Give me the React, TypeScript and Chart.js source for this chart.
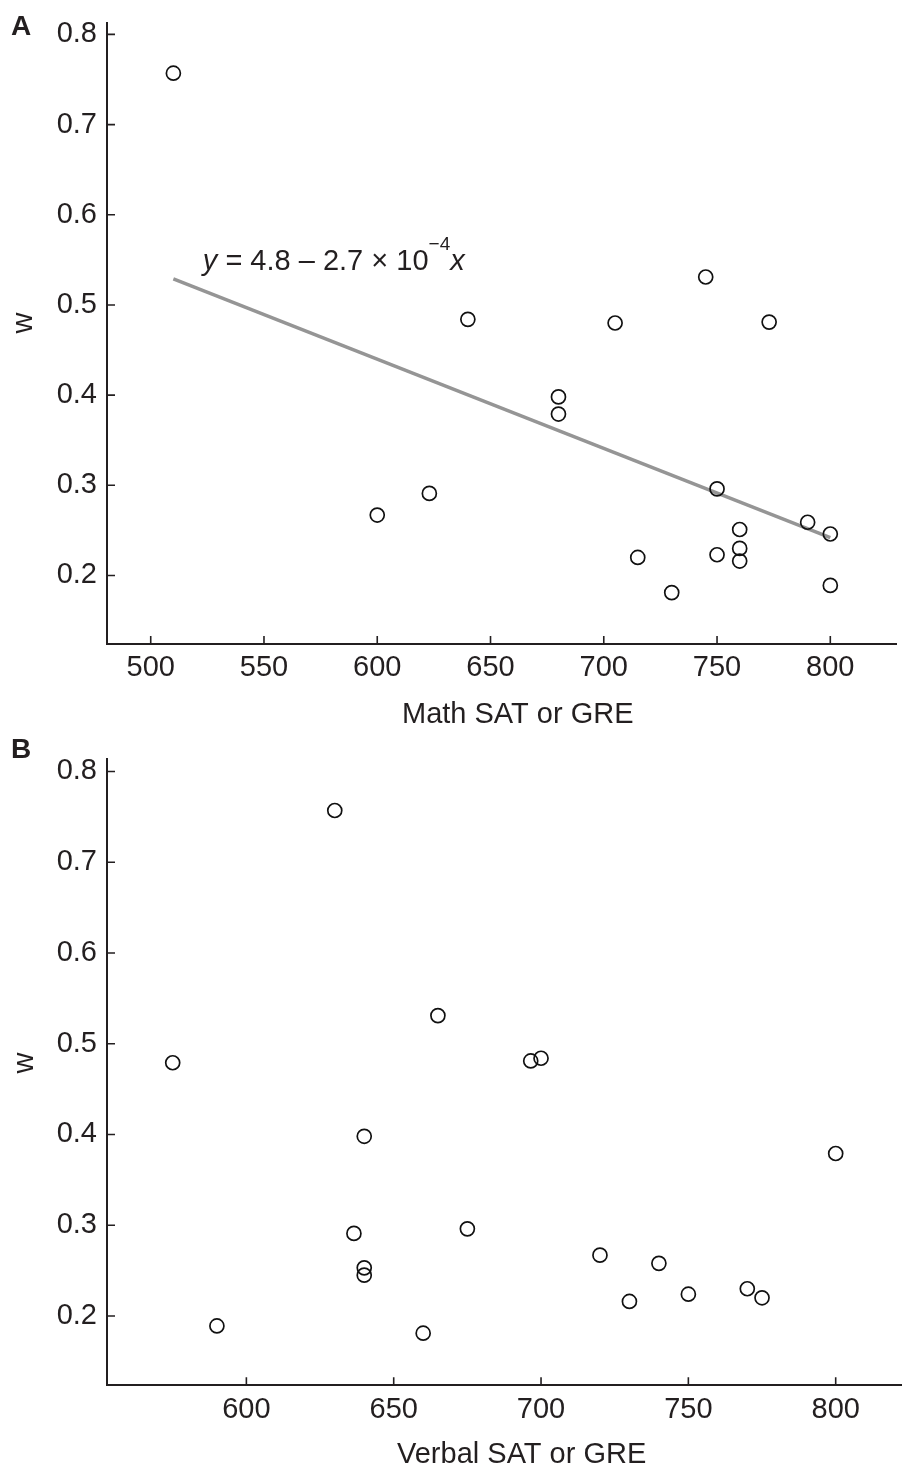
import { useEffect, useRef } from 'react';
import { Chart, registerables } from 'chart.js';

Chart.register(...registerables);

const INK = '#231f20';
const FONT = '"Liberation Sans", Arial, Helvetica, sans-serif';

// Panel A: math score against w (one entry per student, same order as w)
const MATH_SCORES = [510, 600, 623, 640, 680, 680, 705, 715, 730, 745, 750, 750, 760, 760, 760, 773, 790, 800, 800];
const MATH_W = [0.757, 0.267, 0.291, 0.484, 0.398, 0.379, 0.48, 0.22, 0.181, 0.531, 0.296, 0.223, 0.251, 0.23, 0.216, 0.481, 0.259, 0.246, 0.189];
// fitted line end points
const FIT_SCORES = [510, 800];
const FIT_W = [0.529, 0.242];
const MATH_TICKS = [500, 550, 600, 650, 700, 750, 800];

// Panel B: verbal score against w
const VERBAL_SCORES = [630, 575, 665, 640, 636.5, 640, 640, 590, 660, 696.5, 700, 800, 675, 720, 740, 730, 750, 770, 775];
const VERBAL_W = [0.757, 0.479, 0.531, 0.398, 0.291, 0.253, 0.245, 0.189, 0.181, 0.481, 0.484, 0.379, 0.296, 0.267, 0.258, 0.216, 0.224, 0.23, 0.22];
const VERBAL_TICKS = [600, 650, 700, 750, 800];

const W_TICKS = [0.2, 0.3, 0.4, 0.5, 0.6, 0.7, 0.8];

type Box = { left: number; top: number; right: number; bottom: number };

type PanelProps = {
  letter: string;
  letterY: number;
  xs: number[];
  ws: number[];
  fitX?: number[];
  fitW?: number[];
  xTicks: number[];
  xRange: [number, number];
  wRange: [number, number];
  xTitle: string;
  titleX: number;
  titleY: number;
  wLabel: [number, number];
  equation?: { x: number; w: number };
  top: number;
  height: number;
  area: Box;
};

function Panel(p: PanelProps) {
  const canvasRef = useRef<HTMLCanvasElement>(null);
  const chartRef = useRef<Chart | null>(null);

  useEffect(() => {
    chartRef.current?.destroy();
    if (!canvasRef.current) return undefined;

    // inward tick marks, axis titles, panel letter, fit equation
    const decorate = {
      id: 'decorate',
      afterDraw(chart: Chart) {
        const { ctx } = chart;
        const xs = chart.scales.x;
        const ys = chart.scales.y;
        ctx.save();
        ctx.strokeStyle = INK;
        ctx.lineWidth = 1.6;
        ctx.beginPath();
        xs.ticks.forEach(t => {
          const px = xs.getPixelForValue(t.value);
          ctx.moveTo(px, xs.top);
          ctx.lineTo(px, xs.top - 8);
        });
        ys.ticks.forEach(t => {
          const py = ys.getPixelForValue(t.value);
          ctx.moveTo(ys.right, py);
          ctx.lineTo(ys.right + 8, py);
        });
        ctx.stroke();

        ctx.fillStyle = INK;
        ctx.textBaseline = 'alphabetic';
        ctx.textAlign = 'left';
        ctx.font = `29px ${FONT}`;
        ctx.fillText(p.xTitle, p.titleX, p.titleY);

        ctx.font = `bold 28px ${FONT}`;
        ctx.fillText(p.letter, 11, p.letterY);

        ctx.save();
        ctx.translate(p.wLabel[0], p.wLabel[1]);
        ctx.rotate(-Math.PI / 2);
        ctx.textAlign = 'center';
        ctx.font = `29px ${FONT}`;
        ctx.fillText('w', 0, 0);
        ctx.restore();

        if (p.equation) {
          let ex = xs.getPixelForValue(p.equation.x);
          const ey = ys.getPixelForValue(p.equation.w);
          ctx.font = `italic 29px ${FONT}`;
          ctx.fillText('y', ex, ey);
          ex += ctx.measureText('y').width;
          ctx.font = `29px ${FONT}`;
          const body = ' = 4.8 – 2.7 × 10';
          ctx.fillText(body, ex, ey);
          ex += ctx.measureText(body).width;
          ctx.font = `19px ${FONT}`;
          ctx.fillText('−4', ex, ey - 20);
          ex += ctx.measureText('−4').width;
          ctx.font = `italic 29px ${FONT}`;
          ctx.fillText('x', ex, ey);
        }
        ctx.restore();
      },
    };

    const datasets: any[] = [
      {
        type: 'scatter',
        data: p.xs.map((x, i) => ({ x, y: p.ws[i] })),
        pointRadius: 7,
        pointHoverRadius: 7,
        pointBorderWidth: 1.7,
        borderColor: '#111',
        backgroundColor: 'rgba(0,0,0,0)',
        order: 1,
      },
    ];
    if (p.fitX && p.fitW) {
      datasets.push({
        type: 'line',
        data: p.fitX.map((x, i) => ({ x, y: p.fitW![i] })),
        borderColor: '#959595',
        borderWidth: 3.5,
        pointRadius: 0,
        fill: false,
        order: 2,
      });
    }

    const tickFont = { size: 29, family: FONT };

    chartRef.current = new Chart(canvasRef.current, {
      type: 'scatter',
      data: { datasets },
      plugins: [decorate],
      options: {
        animation: false,
        responsive: false,
        events: [],
        layout: { padding: { left: 0, top: p.area.top, right: 913 - p.area.right, bottom: 0 } },
        plugins: { legend: { display: false }, tooltip: { enabled: false } },
        scales: {
          x: {
            type: 'linear',
            min: p.xRange[0],
            max: p.xRange[1],
            afterBuildTicks: (s: any) => {
              s.ticks = p.xTicks.map(value => ({ value }));
            },
            afterFit: (s: any) => {
              s.height = p.height - p.area.bottom;
              s.paddingLeft = 0;
              s.paddingRight = 0;
            },
            grid: { display: true, drawOnChartArea: false, drawTicks: false },
            border: { display: true, color: INK, width: 2 },
            ticks: { color: INK, font: tickFont, padding: 7, maxRotation: 0, autoSkip: false, callback: v => String(v) },
          },
          y: {
            type: 'linear',
            min: p.wRange[0],
            max: p.wRange[1],
            afterBuildTicks: (s: any) => {
              s.ticks = W_TICKS.map(value => ({ value }));
            },
            afterFit: (s: any) => {
              s.width = p.area.left;
              s.paddingTop = 0;
              s.paddingBottom = 0;
            },
            grid: { display: true, drawOnChartArea: false, drawTicks: false },
            border: { display: true, color: INK, width: 2 },
            ticks: { color: INK, font: tickFont, padding: 10, autoSkip: false, callback: v => Number(v).toFixed(1) },
          },
        },
      },
    });

    return () => {
      chartRef.current?.destroy();
      chartRef.current = null;
    };
  }, [p]);

  return (
    <canvas
      ref={canvasRef}
      width={913}
      height={p.height}
      style={{ position: 'absolute', left: 0, top: p.top, width: 913, height: p.height, display: 'block' }}
    />
  );
}

const PANEL_A: PanelProps = {
  letter: 'A',
  letterY: 35,
  xs: MATH_SCORES,
  ws: MATH_W,
  fitX: FIT_SCORES,
  fitW: FIT_W,
  xTicks: MATH_TICKS,
  xRange: [480.7, 829],
  wRange: [0.124, 0.813],
  xTitle: 'Math SAT or GRE',
  titleX: 402,
  titleY: 723,
  wLabel: [32, 323],
  equation: { x: 523, w: 0.5386 },
  top: 0,
  height: 735,
  area: { left: 107, top: 22.7, right: 896, bottom: 644 },
};

const PANEL_B: PanelProps = {
  letter: 'B',
  letterY: 23,
  xs: VERBAL_SCORES,
  ws: VERBAL_W,
  xTicks: VERBAL_TICKS,
  xRange: [552.7, 822.4],
  wRange: [0.1236, 0.8134],
  xTitle: 'Verbal SAT or GRE',
  titleX: 397,
  titleY: 728,
  wLabel: [33, 328],
  top: 735,
  height: 741,
  area: { left: 107, top: 24.3, right: 901.7, bottom: 650.3 },
};

export default function App() {
  return (
    <div style={{ position: 'absolute', left: 0, top: 0, width: 913, height: 1476, background: '#fff', overflow: 'hidden' }}>
      <Panel {...PANEL_A} />
      <Panel {...PANEL_B} />
    </div>
  );
}
